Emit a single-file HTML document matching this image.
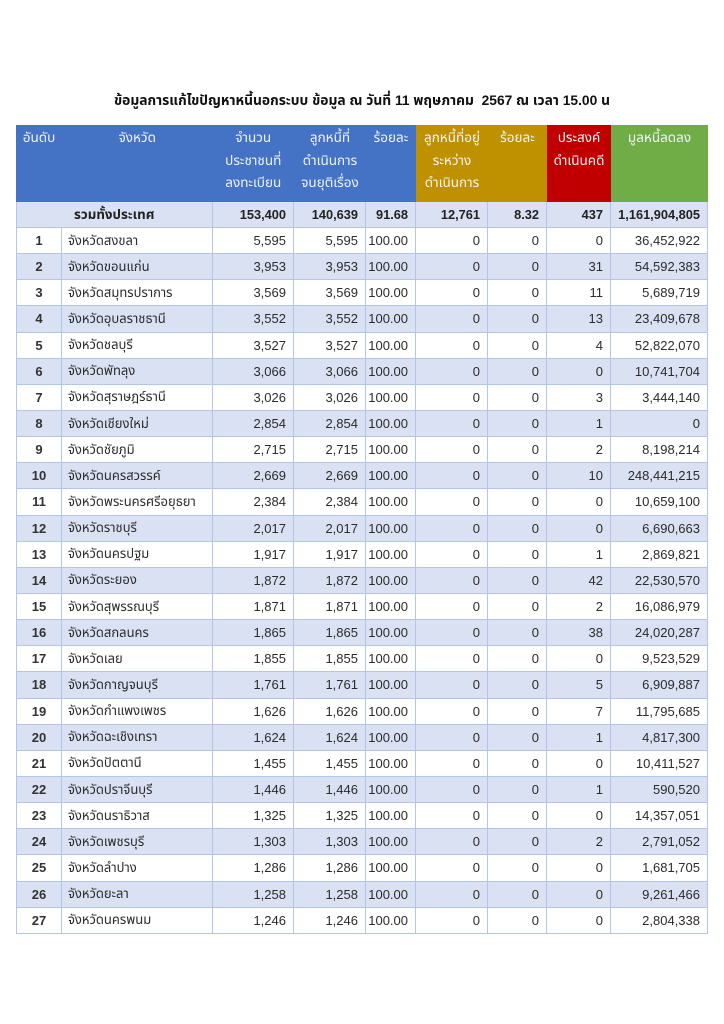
<!DOCTYPE html>
<html>
<head>
<meta charset="utf-8">
<style>
  html,body{margin:0;padding:0;background:#fff;}
  body{width:724px;height:1024px;position:relative;overflow:hidden;
    font-family:"Liberation Sans","Tahoma","Noto Sans Thai","Garuda","DejaVu Sans",sans-serif;color:#2b2b2b;}
  .title{position:absolute;left:0;width:724px;top:90px;text-align:center;font-weight:bold;font-size:13.8px;color:#111;line-height:22px;white-space:pre;}
  .grid{position:absolute;left:16px;top:125px;width:692px;display:grid;
    grid-template-columns:46px 150.5px 81.5px 72px 50px 72px 59px 64px 97px;
    grid-template-rows:77px 26px repeat(27,26.15px);}
  .h{color:#f2f4fa;font-size:13.5px;text-align:center;line-height:22.5px;padding-top:2px;box-sizing:border-box;}
  .b{background:#4472c4;}
  .o{background:#bf9000;}
  .r{background:#c00000;}
  .g{background:#70ad47;}
  .c{box-sizing:border-box;border-right:1px solid #b4c6e7;border-bottom:1px solid #b4c6e7;font-size:13px;
     display:flex;align-items:center;justify-content:flex-end;padding-right:7px;white-space:nowrap;}
  .c.first{border-left:1px solid #b4c6e7;}
  .c.rk{justify-content:center;padding-right:0;font-weight:bold;color:#333;}
  .c.nm{justify-content:flex-start;padding-left:6px;padding-right:0;}
  .alt{background:#d9e1f2;}
  .tot{background:#d9e1f2;font-weight:bold;font-size:12.8px;color:#222;}
  .tot.span{grid-column:span 2;justify-content:center;padding-right:0;font-size:13.3px;}
</style>
</head>
<body>
<div class="title">ข้อมูลการแก้ไขปัญหาหนี้นอกระบบ ข้อมูล ณ วันที่ 11 พฤษภาคม  2567 ณ เวลา 15.00 น</div>
<div class="grid">
  <div class="h b">อันดับ</div>
  <div class="h b">จังหวัด</div>
  <div class="h b">จำนวน<br>ประชาชนที่<br>ลงทะเบียน</div>
  <div class="h b">ลูกหนี้ที่<br>ดำเนินการ<br>จนยุติเรื่อง</div>
  <div class="h b">ร้อยละ</div>
  <div class="h o">ลูกหนี้ที่อยู่<br>ระหว่าง<br>ดำเนินการ</div>
  <div class="h o">ร้อยละ</div>
  <div class="h r">ประสงค์<br>ดำเนินคดี</div>
  <div class="h g">มูลหนี้ลดลง</div>

  <div class="c first tot span">รวมทั้งประเทศ</div>
  <div class="c tot">153,400</div>
  <div class="c tot">140,639</div>
  <div class="c tot">91.68</div>
  <div class="c tot">12,761</div>
  <div class="c tot">8.32</div>
  <div class="c tot">437</div>
  <div class="c tot">1,161,904,805</div>

  <div class="c first rk">1</div><div class="c nm">จังหวัดสงขลา</div><div class="c">5,595</div><div class="c">5,595</div><div class="c">100.00</div><div class="c">0</div><div class="c">0</div><div class="c">0</div><div class="c">36,452,922</div>
  <div class="c first rk alt">2</div><div class="c nm alt">จังหวัดขอนแก่น</div><div class="c alt">3,953</div><div class="c alt">3,953</div><div class="c alt">100.00</div><div class="c alt">0</div><div class="c alt">0</div><div class="c alt">31</div><div class="c alt">54,592,383</div>
  <div class="c first rk">3</div><div class="c nm">จังหวัดสมุทรปราการ</div><div class="c">3,569</div><div class="c">3,569</div><div class="c">100.00</div><div class="c">0</div><div class="c">0</div><div class="c">11</div><div class="c">5,689,719</div>
  <div class="c first rk alt">4</div><div class="c nm alt">จังหวัดอุบลราชธานี</div><div class="c alt">3,552</div><div class="c alt">3,552</div><div class="c alt">100.00</div><div class="c alt">0</div><div class="c alt">0</div><div class="c alt">13</div><div class="c alt">23,409,678</div>
  <div class="c first rk">5</div><div class="c nm">จังหวัดชลบุรี</div><div class="c">3,527</div><div class="c">3,527</div><div class="c">100.00</div><div class="c">0</div><div class="c">0</div><div class="c">4</div><div class="c">52,822,070</div>
  <div class="c first rk alt">6</div><div class="c nm alt">จังหวัดพัทลุง</div><div class="c alt">3,066</div><div class="c alt">3,066</div><div class="c alt">100.00</div><div class="c alt">0</div><div class="c alt">0</div><div class="c alt">0</div><div class="c alt">10,741,704</div>
  <div class="c first rk">7</div><div class="c nm">จังหวัดสุราษฎร์ธานี</div><div class="c">3,026</div><div class="c">3,026</div><div class="c">100.00</div><div class="c">0</div><div class="c">0</div><div class="c">3</div><div class="c">3,444,140</div>
  <div class="c first rk alt">8</div><div class="c nm alt">จังหวัดเชียงใหม่</div><div class="c alt">2,854</div><div class="c alt">2,854</div><div class="c alt">100.00</div><div class="c alt">0</div><div class="c alt">0</div><div class="c alt">1</div><div class="c alt">0</div>
  <div class="c first rk">9</div><div class="c nm">จังหวัดชัยภูมิ</div><div class="c">2,715</div><div class="c">2,715</div><div class="c">100.00</div><div class="c">0</div><div class="c">0</div><div class="c">2</div><div class="c">8,198,214</div>
  <div class="c first rk alt">10</div><div class="c nm alt">จังหวัดนครสวรรค์</div><div class="c alt">2,669</div><div class="c alt">2,669</div><div class="c alt">100.00</div><div class="c alt">0</div><div class="c alt">0</div><div class="c alt">10</div><div class="c alt">248,441,215</div>
  <div class="c first rk">11</div><div class="c nm">จังหวัดพระนครศรีอยุธยา</div><div class="c">2,384</div><div class="c">2,384</div><div class="c">100.00</div><div class="c">0</div><div class="c">0</div><div class="c">0</div><div class="c">10,659,100</div>
  <div class="c first rk alt">12</div><div class="c nm alt">จังหวัดราชบุรี</div><div class="c alt">2,017</div><div class="c alt">2,017</div><div class="c alt">100.00</div><div class="c alt">0</div><div class="c alt">0</div><div class="c alt">0</div><div class="c alt">6,690,663</div>
  <div class="c first rk">13</div><div class="c nm">จังหวัดนครปฐม</div><div class="c">1,917</div><div class="c">1,917</div><div class="c">100.00</div><div class="c">0</div><div class="c">0</div><div class="c">1</div><div class="c">2,869,821</div>
  <div class="c first rk alt">14</div><div class="c nm alt">จังหวัดระยอง</div><div class="c alt">1,872</div><div class="c alt">1,872</div><div class="c alt">100.00</div><div class="c alt">0</div><div class="c alt">0</div><div class="c alt">42</div><div class="c alt">22,530,570</div>
  <div class="c first rk">15</div><div class="c nm">จังหวัดสุพรรณบุรี</div><div class="c">1,871</div><div class="c">1,871</div><div class="c">100.00</div><div class="c">0</div><div class="c">0</div><div class="c">2</div><div class="c">16,086,979</div>
  <div class="c first rk alt">16</div><div class="c nm alt">จังหวัดสกลนคร</div><div class="c alt">1,865</div><div class="c alt">1,865</div><div class="c alt">100.00</div><div class="c alt">0</div><div class="c alt">0</div><div class="c alt">38</div><div class="c alt">24,020,287</div>
  <div class="c first rk">17</div><div class="c nm">จังหวัดเลย</div><div class="c">1,855</div><div class="c">1,855</div><div class="c">100.00</div><div class="c">0</div><div class="c">0</div><div class="c">0</div><div class="c">9,523,529</div>
  <div class="c first rk alt">18</div><div class="c nm alt">จังหวัดกาญจนบุรี</div><div class="c alt">1,761</div><div class="c alt">1,761</div><div class="c alt">100.00</div><div class="c alt">0</div><div class="c alt">0</div><div class="c alt">5</div><div class="c alt">6,909,887</div>
  <div class="c first rk">19</div><div class="c nm">จังหวัดกำแพงเพชร</div><div class="c">1,626</div><div class="c">1,626</div><div class="c">100.00</div><div class="c">0</div><div class="c">0</div><div class="c">7</div><div class="c">11,795,685</div>
  <div class="c first rk alt">20</div><div class="c nm alt">จังหวัดฉะเชิงเทรา</div><div class="c alt">1,624</div><div class="c alt">1,624</div><div class="c alt">100.00</div><div class="c alt">0</div><div class="c alt">0</div><div class="c alt">1</div><div class="c alt">4,817,300</div>
  <div class="c first rk">21</div><div class="c nm">จังหวัดปัตตานี</div><div class="c">1,455</div><div class="c">1,455</div><div class="c">100.00</div><div class="c">0</div><div class="c">0</div><div class="c">0</div><div class="c">10,411,527</div>
  <div class="c first rk alt">22</div><div class="c nm alt">จังหวัดปราจีนบุรี</div><div class="c alt">1,446</div><div class="c alt">1,446</div><div class="c alt">100.00</div><div class="c alt">0</div><div class="c alt">0</div><div class="c alt">1</div><div class="c alt">590,520</div>
  <div class="c first rk">23</div><div class="c nm">จังหวัดนราธิวาส</div><div class="c">1,325</div><div class="c">1,325</div><div class="c">100.00</div><div class="c">0</div><div class="c">0</div><div class="c">0</div><div class="c">14,357,051</div>
  <div class="c first rk alt">24</div><div class="c nm alt">จังหวัดเพชรบุรี</div><div class="c alt">1,303</div><div class="c alt">1,303</div><div class="c alt">100.00</div><div class="c alt">0</div><div class="c alt">0</div><div class="c alt">2</div><div class="c alt">2,791,052</div>
  <div class="c first rk">25</div><div class="c nm">จังหวัดลำปาง</div><div class="c">1,286</div><div class="c">1,286</div><div class="c">100.00</div><div class="c">0</div><div class="c">0</div><div class="c">0</div><div class="c">1,681,705</div>
  <div class="c first rk alt">26</div><div class="c nm alt">จังหวัดยะลา</div><div class="c alt">1,258</div><div class="c alt">1,258</div><div class="c alt">100.00</div><div class="c alt">0</div><div class="c alt">0</div><div class="c alt">0</div><div class="c alt">9,261,466</div>
  <div class="c first rk">27</div><div class="c nm">จังหวัดนครพนม</div><div class="c">1,246</div><div class="c">1,246</div><div class="c">100.00</div><div class="c">0</div><div class="c">0</div><div class="c">0</div><div class="c">2,804,338</div>
</div>
</body>
</html>
